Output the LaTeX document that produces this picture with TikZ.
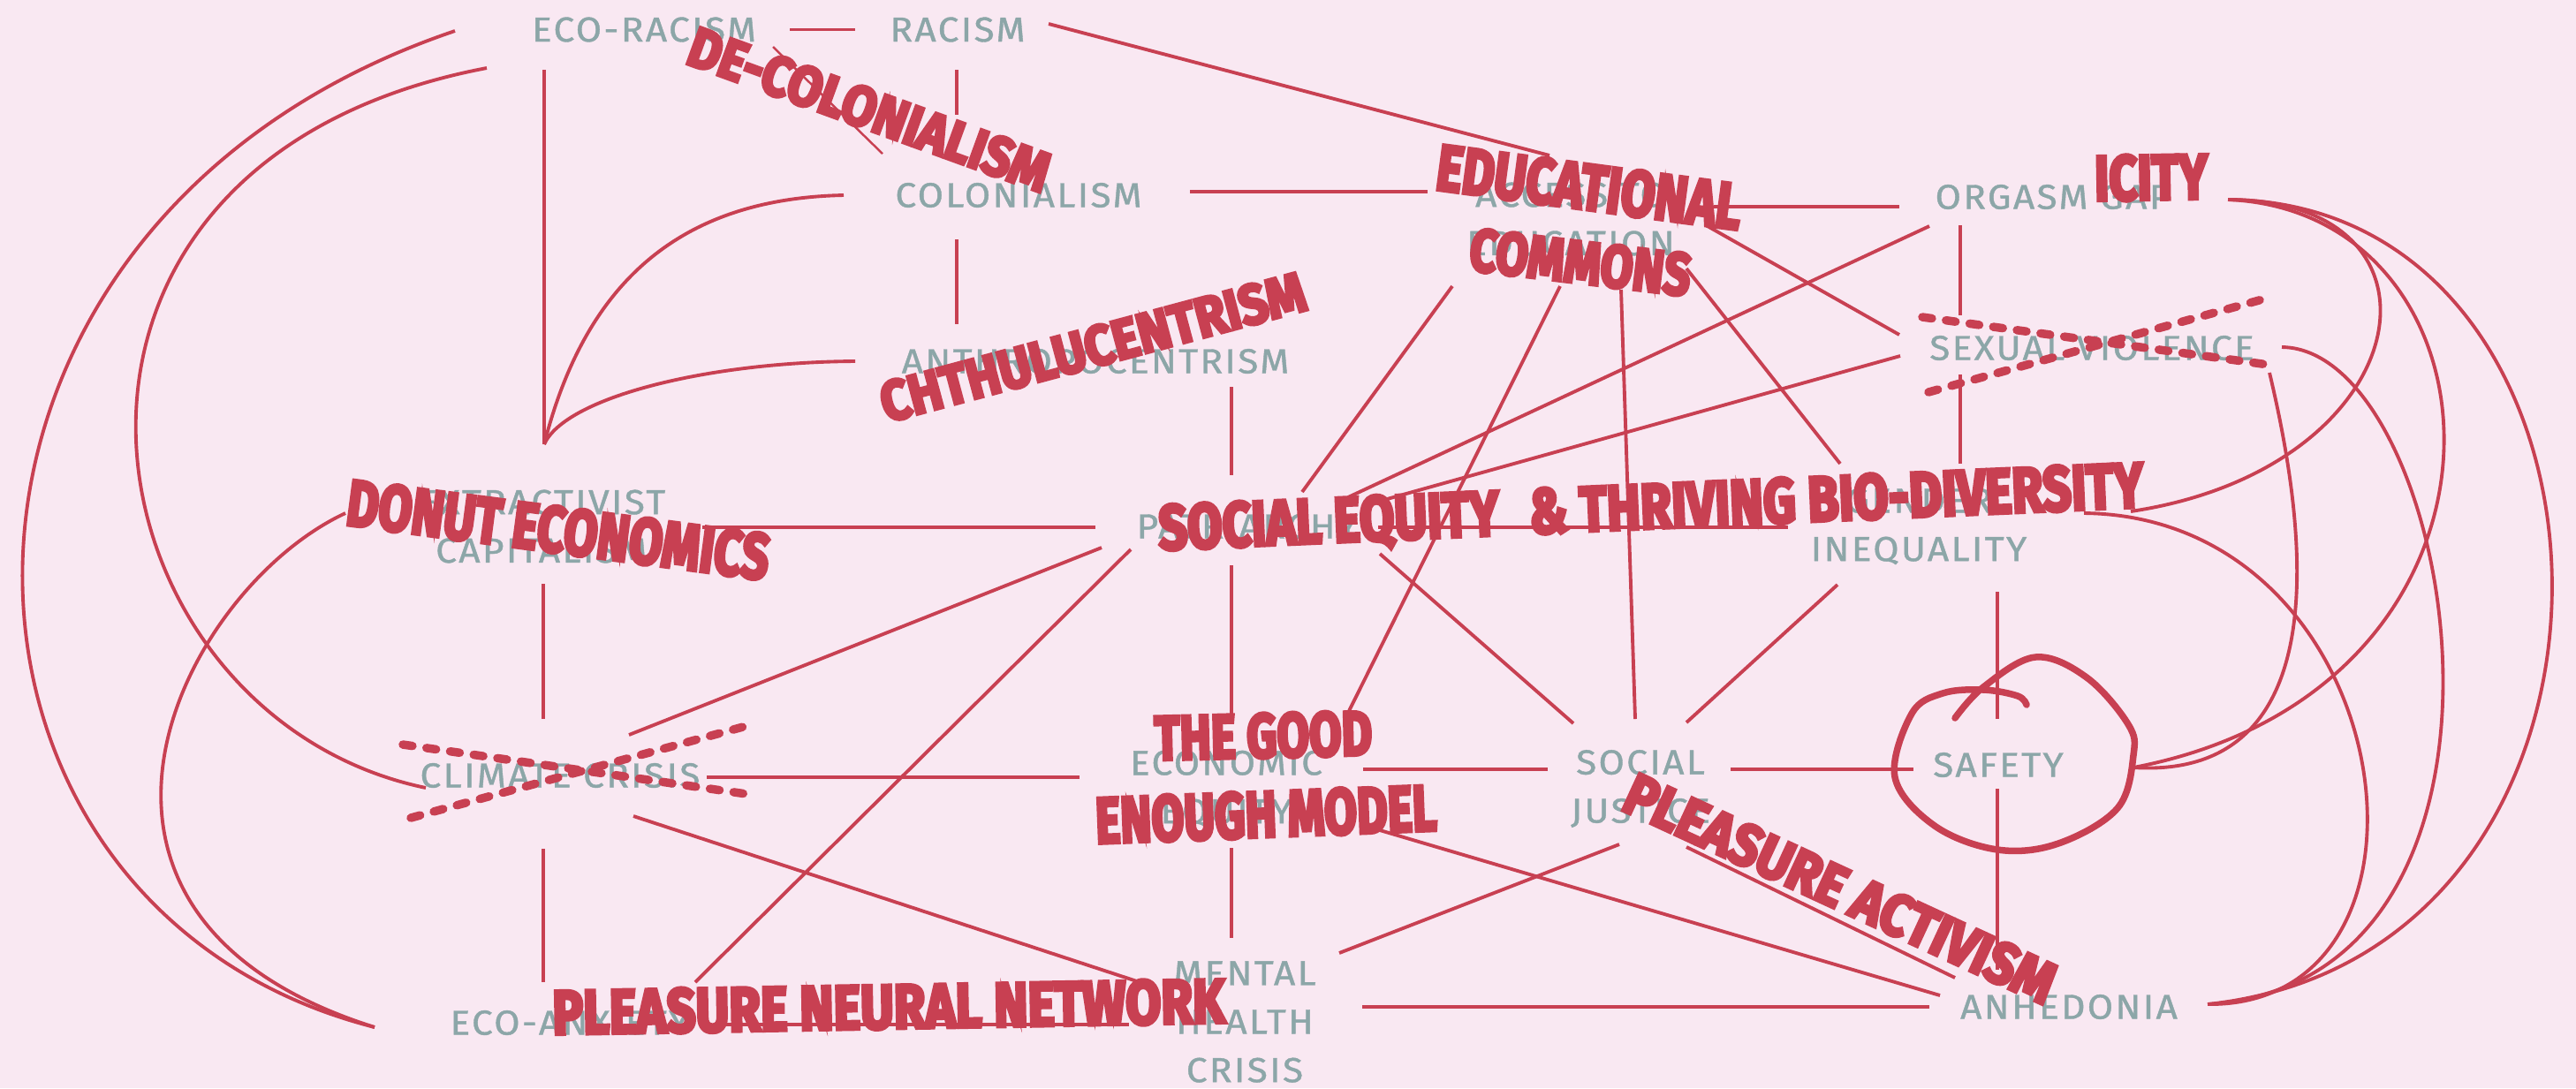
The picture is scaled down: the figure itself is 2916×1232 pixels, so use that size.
\documentclass[tikz,border=0pt]{standalone}
\usepackage{fontspec}
\usepackage{graphicx}
\usetikzlibrary{calc}
\setmainfont{Fira Sans}
\newfontfamily\labelfont[LetterSpace=6, FakeStretch=1.08, FakeBold=1]{Fira Sans}
\newfontfamily\redfont[FakeBold=6]{Fira Sans}
\definecolor{pagebg}{RGB}{249,232,242}
\definecolor{inkred}{RGB}{200,64,82}
\definecolor{inkgrey}{RGB}{140,166,168}
% bold condensed slogans: width, cap height, text
\newcommand\redword[3]{\resizebox{#1}{#2}{\redfont\bfseries #3}}

\tikzset{
  greylab/.style={text=inkgrey, inner sep=0pt, align=center,
    font=\labelfont\fontsize{11.15pt}{15.6pt}\selectfont},
  redlab/.style={text=inkred, inner sep=0pt},
  conn/.style={draw=inkred, line width=1.1pt},
  thinconn/.style={draw=inkred, line width=0.7pt},
  crossout/.style={draw=inkred, line width=0.095cm, line cap=round,
    dash pattern=on 0.11cm off 0.16cm},
  loopmark/.style={draw=inkred, line width=0.075cm, line cap=round, line join=round},
}

\begin{document}
\begin{tikzpicture}[x=0.01cm, y=-0.01cm]
\fill[pagebg] (0,0) rectangle (2916,1232);
\useasboundingbox (0,0) rectangle (2916,1232);

% ---------- concepts ----------
\node[greylab] (ecoracism) at (729,33.5) {ECO-RACISM};
\node[greylab] (racism)    at (1084,33.5) {RACISM};
\node[greylab] (colonial)  at (1153,221) {COLONIALISM};
\node[greylab] (anthro)    at (1240,409) {ANTHROPOCENTRISM};
\node[greylab] (extract)   at (613,596) {EXTRACTIVIST\\CAPITALISM};
\node[greylab] (patri)     at (1412,596) {PATRIARCHY};
\node[greylab] (access)    at (1778,248) {ACCESS TO\\EDUCATION};
\node[greylab] (orgasm)    at (2324,223) {ORGASM GAP};
\node[greylab] (sexviol)   at (2368,394) {SEXUAL VIOLENCE};
\node[greylab] (gender)    at (2172,596) {GENDER\\INEQUALITY};
\node[greylab] (climate)   at (634,878) {CLIMATE CRISIS};
\node[greylab] (econ)      at (1388,893) {ECONOMIC\\EQUITY};
\node[greylab] (socjust)   at (1857,893) {SOCIAL\\JUSTICE};
\node[greylab] (safety)    at (2262,866) {SAFETY};
\node[greylab] (ecoanx)    at (645,1158) {ECO-ANXIETY};
\node[greylab] (mental)    at (1409,1157) {MENTAL\\HEALTH\\CRISIS};
\node[greylab] (anhed)     at (2342,1140) {ANHEDONIA};

% ---------- straight links ----------
\draw[conn] ($(ecoracism)+(165,0)$) -- ($(racism)+(-116,0)$);
\draw[conn] ($(racism)+(103,-6.5)$) -- ($(access)+(-24,-72)$);
\draw[thinconn] ($(ecoracism)+(146,19.5)$) -- ($(colonial)+(-154,-47)$);
\draw[conn] ($(racism)+(-1,45.5)$) -- ($(colonial)+(-70,-91)$);
\draw[conn] ($(colonial)+(194,-4)$) -- ($(access)+(-162,-31)$);
\draw[conn] ($(colonial)+(-70,50)$) -- ($(anthro)+(-157,-42)$);
\draw[conn] ($(ecoracism)+(-113,45.5)$) -- ($(extract)+(3,-93)$);
\draw[conn] ($(anthro)+(154,29)$) -- ($(patri)+(-18,-58)$);
\draw[conn] ($(extract)+(182,1)$) -- ($(patri)+(-172,1)$);
\draw[conn] ($(patri)+(-165,24)$) -- ($(climate)+(78,-46)$);
\draw[conn] ($(patri)+(-132,26)$) -- ($(ecoanx)+(142,-46)$);
\draw[conn] ($(extract)+(2,65)$) -- ($(climate)+(-19,-64)$);
\draw[conn] ($(climate)+(166,2)$) -- ($(econ)+(-166,-13)$);
\draw[conn] ($(climate)+(83,46)$) -- ($(mental)+(-119,-45)$);
\draw[conn] ($(climate)+(-19,83)$) -- ($(ecoanx)+(-30,-46)$);
\draw[conn] ($(ecoanx)+(165,2)$) -- ($(mental)+(-131,3)$);
\draw[conn] ($(patri)+(-18,44)$) -- ($(econ)+(6,-83)$);
\draw[conn] ($(econ)+(155,-22)$) -- ($(socjust)+(-105,-22)$);
\draw[conn] ($(econ)+(6,67)$) -- ($(mental)+(-15,-95)$);
\draw[conn] ($(econ)+(174,47)$) -- ($(anhed)+(-146,-13)$);
\draw[conn] ($(socjust)+(-24,63)$) -- ($(mental)+(107,-78)$);
\draw[conn] ($(socjust)+(102,-22)$) -- ($(safety)+(-96,5)$);
\draw[conn] ($(socjust)+(52,66)$) -- ($(anhed)+(-129,-33)$);
\draw[conn] ($(mental)+(133,-17)$) -- ($(anhed)+(-158,0)$);
\draw[conn] ($(safety)+(-1,27)$) -- ($(anhed)+(-81,-42)$);
\draw[conn] ($(gender)+(89,74)$) -- ($(safety)+(-1,-52)$);
\draw[conn] ($(gender)+(-92,66)$) -- ($(socjust)+(52,-75)$);
\draw[conn] ($(access)+(57,80)$) -- ($(socjust)+(-6,-79)$);
\draw[conn] ($(patri)+(150,31)$) -- ($(socjust)+(-76,-74)$);
\draw[conn] ($(access)+(-134,76)$) -- ($(patri)+(62,-39)$);
\draw[conn] ($(access)+(-12,76)$) -- ($(econ)+(139,-88)$);
\draw[conn] ($(access)+(162,-14)$) -- ($(orgasm)+(-174,11)$);
\draw[conn] ($(access)+(153,7)$) -- ($(sexviol)+(-218,-15)$);
\draw[conn] ($(access)+(131,56)$) -- ($(gender)+(-89,-71)$);
\draw[conn] ($(orgasm)+(-140,33)$) -- ($(patri)+(114,-33)$);
\draw[conn] ($(sexviol)+(-217,9)$) -- ($(patri)+(151,-29)$);
\draw[conn] ($(orgasm)+(-105,32)$) -- ($(sexviol)+(-149,-37)$);
\draw[conn] ($(sexviol)+(-149,30)$) -- ($(gender)+(47,-71)$);
\draw[conn] ($(patri)+(148,1)$) -- ($(gender)+(-148,1)$);

% ---------- curved links, left ----------
\draw[conn] ($(ecoracism)+(-214,1.5)$) .. controls (-130,253) and (-114,1026) .. ($(ecoanx)+(-221,5)$);
\draw[conn] ($(ecoracism)+(-178,43.5)$) .. controls (-22,186) and (88,810) .. ($(climate)+(-152,14)$);
\draw[conn] ($(extract)+(-222,-15)$) .. controls (206,667) and (18,1035) .. ($(ecoanx)+(-221,5)$);
\draw[conn] ($(colonial)+(-198,0)$) .. controls (760,225) and (660,330) .. ($(extract)+(3,-93)$);
\draw[conn] ($(anthro)+(-272,0)$) .. controls (800,410) and (640,450) .. ($(extract)+(3,-93)$);

% ---------- curved links, right ----------
\draw[conn] ($(orgasm)+(198,3)$) .. controls (2790,226) and (2740,530) .. ($(gender)+(240,-17)$);
\draw[conn] ($(orgasm)+(198,3)$) .. controls (2850,240) and (2880,780) .. ($(safety)+(153,3)$);
\draw[conn] ($(orgasm)+(198,3)$) .. controls (3000,230) and (3030,1080) .. ($(anhed)+(157,-3)$);
\draw[conn] ($(sexviol)+(215,-1)$) .. controls (2780,395) and (2900,1110) .. ($(anhed)+(157,-3)$);
\draw[conn] ($(sexviol)+(201,28)$) .. controls (2640,720) and (2590,880) .. ($(safety)+(153,3)$);
\draw[conn] ($(gender)+(187,-15)$) .. controls (2720,585) and (2790,1140) .. ($(anhed)+(157,-3)$);

% ---------- strike-outs and the ring ----------
\begin{scope}[shift={(climate)}]
  \draw[crossout] (-178,-35) -- (218,22);
  \draw[crossout] (-169,48) -- (218,-58);
\end{scope}
\begin{scope}[shift={(sexviol)}]
  \draw[crossout] (-192,-35) -- (200,19);
  \draw[crossout] (-185,50) -- (200,-57);
\end{scope}
\begin{scope}[shift={(safety)}]
  \draw[loopmark] plot[smooth, tension=0.6] coordinates {
    (-49,-53) (-17,-88) (42,-122) (100,-99) (147,-46) (153,-11) (135,49)
    (68,89) (-1,96) (-72,69) (-117,14) (-98,-58) (-63,-81) (-17,-85)
    (22,-78) (32,-68)};
\end{scope}

% ---------- slogans ----------
\node[redlab, rotate=-20]   (decol)  at (984,124)  {\redword{4.30cm}{0.45cm}{DE-COLONIALISM}};
\node[redlab, rotate=15]    (chthu)  at (1237,393) {\redword{4.95cm}{0.45cm}{CHTHULUCENTRISM}};
\node[redlab, rotate=-7.5]  (donut)  at (632,600)  {\redword{4.81cm}{0.52cm}{DONUT ECONOMICS}};
\node[redlab, rotate=-7.6]  (edu)    at (1799,212) {\redword{3.47cm}{0.52cm}{EDUCATIONAL}};
\node[redlab, rotate=-6.8]  (commons) at (1789,297) {\redword{2.51cm}{0.48cm}{COMMONS}};
\node[redlab, rotate=1]     (icity)  at (2435,201) {\redword{1.28cm}{0.51cm}{ICITY}};
\node[redlab, rotate=2.5]   (equity) at (1869,578) {\redword{11.15cm}{0.51cm}{SOCIAL EQUITY\hspace{0.6em}\& THRIVING BIO-DIVERSITY}};
\node[redlab, rotate=1.4]   (good)   at (1430,833) {\redword{2.46cm}{0.50cm}{THE GOOD}};
\node[redlab, rotate=2.2]   (enough) at (1433,922) {\redword{3.86cm}{0.52cm}{ENOUGH MODEL}};
\node[redlab, rotate=-24.8] (pact)   at (2083,1006) {\redword{5.29cm}{0.47cm}{PLEASURE ACTIVISM}};
\node[redlab, rotate=1]     (pnn)    at (1006,1140) {\redword{7.61cm}{0.50cm}{PLEASURE NEURAL NETWORK}};
\end{tikzpicture}
\end{document}
